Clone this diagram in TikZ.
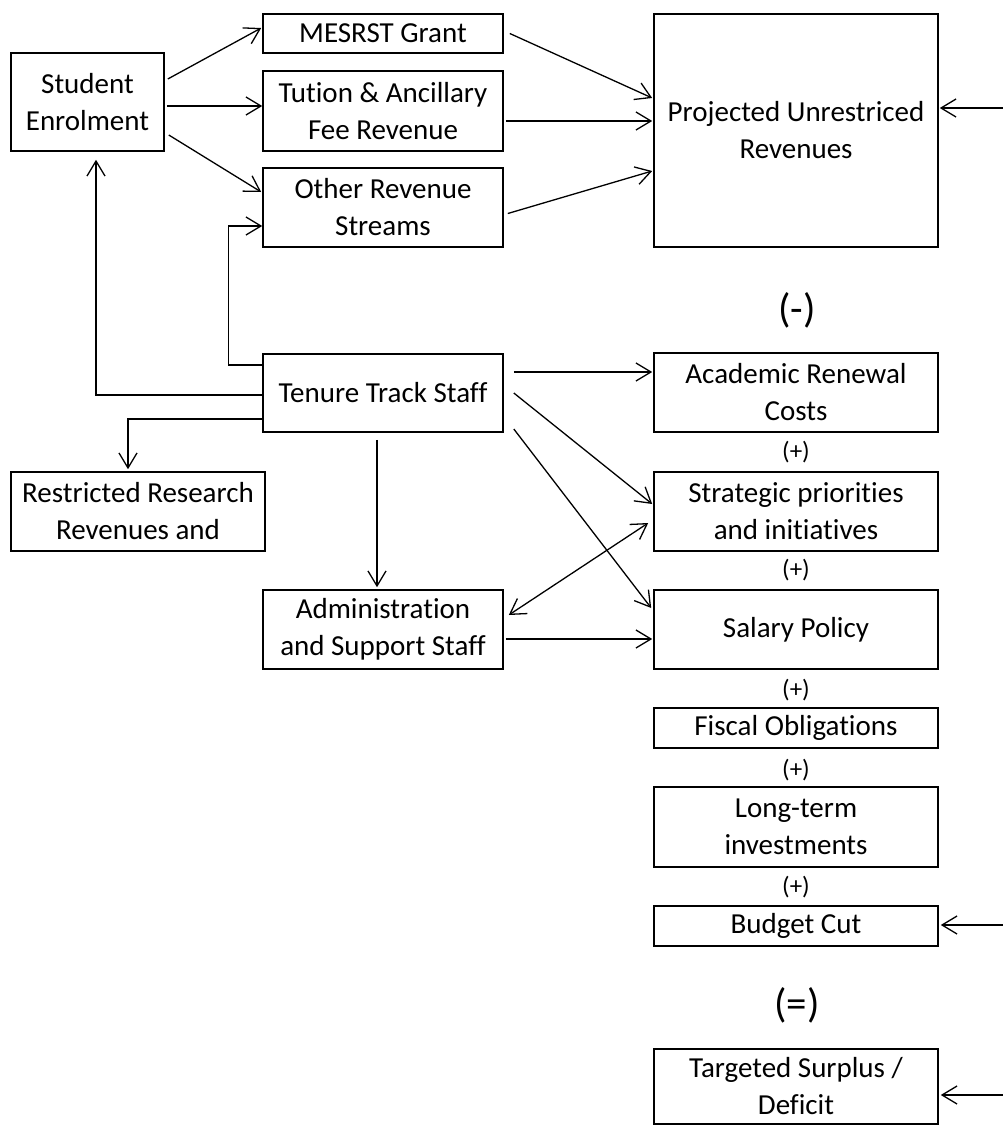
\documentclass[tikz,border=0pt]{standalone}
\usepackage{fontspec}
\setmainfont{Carlito}[Ligatures=NoCommon]
\usetikzlibrary{arrows.meta}
\begin{document}
\begin{tikzpicture}[x=1pt,y=-1pt,
  box/.style={draw,line width=1.6pt,inner sep=0pt,align=center,font=\fontsize{29}{37}\selectfont},
  arr/.style={line width=1.3pt,-{Straight Barb[length=15pt,width=18pt,line width=1.3pt]}},
  darr/.style={line width=1.3pt,{Straight Barb[length=15pt,width=18pt,line width=1.3pt]}-{Straight Barb[length=15pt,width=18pt,line width=1.3pt]}},
  plus/.style={font=\fontsize{25}{28}\selectfont},
  big/.style={font=\fontsize{41}{44}\selectfont}]
\useasboundingbox (0,0) rectangle (1003,1125);
% boxes
\node[box,minimum width=153pt,minimum height=98pt] (stu) at (87.5,102) {Student\\Enrolment};
\node[box,minimum width=240pt,minimum height=39pt] (mes) at (383,33.5) {MESRST Grant};
\node[box,minimum width=240pt,minimum height=80pt] (tut) at (383,111) {Tution \& Ancillary\\Fee Revenue};
\node[box,minimum width=240pt,minimum height=79pt] (oth) at (383,207.5) {Other Revenue\\Streams};
\node[box,minimum width=284pt,minimum height=233pt] (proj) at (796,130.5) {Projected Unrestriced\\Revenues};
\node[box,minimum width=240pt,minimum height=78pt] (ten) at (383,393) {Tenure Track Staff};
\node[box,minimum width=254pt,minimum height=79pt] (res) at (138,511.5) {Restricted Research\\Revenues and};
\node[box,minimum width=240pt,minimum height=79pt] (adm) at (383,629.5) {Administration\\and Support Staff};
\node[box,minimum width=284pt,minimum height=79pt] (aca) at (796,392.5) {Academic Renewal\\Costs};
\node[box,minimum width=284pt,minimum height=79pt] (str) at (796,511.5) {Strategic priorities\\and initiatives};
\node[box,minimum width=284pt,minimum height=79pt] (sal) at (796,629.5) {Salary Policy};
\node[box,minimum width=284pt,minimum height=40pt] (fis) at (796,728) {Fiscal Obligations};
\node[box,minimum width=284pt,minimum height=80pt] (lon) at (796,827) {Long-term\\investments};
\node[box,minimum width=284pt,minimum height=40pt] (bud) at (796,926) {Budget Cut};
\node[box,minimum width=284pt,minimum height=75pt] (tar) at (796,1086.5) {Targeted Surplus /\\Deficit};
% operator labels
\node[big] (minus) at (797,310) {(-)};
\node[big] (equals) at (797,1005) {(=)};
\node[plus] (p1) at (796,452) {(+)};
\node[plus] (p2) at (796,570) {(+)};
\node[plus] (p3) at (796,690) {(+)};
\node[plus] (p4) at (796,770) {(+)};
\node[plus] (p5) at (796,887) {(+)};
% free ends at the right margin
\coordinate (inA) at (1003,108);
\coordinate (inB) at (1003,925);
\coordinate (inC) at (1003,1095);
% connectors
\draw[arr] ([xshift=3pt,yshift=23pt]stu.east) -- ([xshift=-1pt,yshift=5.5pt]mes.west);
\draw[arr] ([xshift=2pt,yshift=-4pt]stu.east) -- ([yshift=5pt]tut.west);
\draw[arr] ([xshift=4pt,yshift=-33pt]stu.east) -- ([xshift=-1pt,yshift=15.5pt]oth.west);
\draw[arr] ([yshift=28pt]ten.west) -- ++(-34,0) |- ([yshift=-18.5pt]oth.west);
\draw[arr] ([yshift=-2pt]ten.west) -| ([xshift=8.5pt,yshift=-8pt]stu.south);
\draw[arr] ([yshift=-26pt]ten.west) -| ([xshift=-10pt,yshift=2pt]res.north);
\draw[arr] ([xshift=-6pt,yshift=-7pt]ten.south) -- ([xshift=-6pt,yshift=2pt]adm.north);
\draw[arr] ([xshift=6pt]mes.east) -- ([xshift=-1pt,yshift=32.5pt]proj.west);
\draw[arr] ([xshift=2pt,yshift=-10pt]tut.east) -- ([xshift=-1pt,yshift=9.5pt]proj.west);
\draw[arr] ([xshift=4pt,yshift=-6pt]oth.east) -- ([xshift=-1pt,yshift=-40.5pt]proj.west);
\draw[arr] (inA) -- ([xshift=1pt,yshift=22.5pt]proj.east);
\draw[arr] ([xshift=10pt,yshift=21pt]ten.east) -- ([xshift=-1pt,yshift=20.5pt]aca.west);
\draw[arr] ([xshift=10pt]ten.east) -- ([xshift=-1pt,yshift=7.5pt]str.west);
\draw[arr] ([xshift=10pt,yshift=-36pt]ten.east) -- ([xshift=-2pt,yshift=21.5pt]sal.west);
\draw[darr] ([xshift=5pt,yshift=14.5pt]adm.east) -- ([xshift=-5pt,yshift=-11.5pt]str.west);
\draw[arr] ([xshift=2pt,yshift=-9.5pt]adm.east) -- ([xshift=-1pt,yshift=-9.5pt]sal.west);
\draw[arr] (inB) -- ([xshift=2pt,yshift=1pt]bud.east);
\draw[arr] (inC) -- ([xshift=2pt,yshift=-8.5pt]tar.east);
\end{tikzpicture}
\end{document}
